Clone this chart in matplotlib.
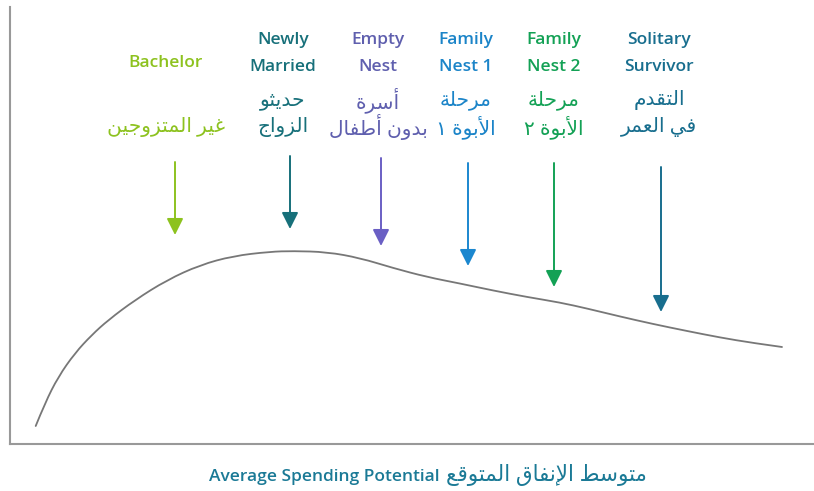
import matplotlib
matplotlib.use('Agg')
import matplotlib.pyplot as plt
from matplotlib.path import Path
from matplotlib.patches import PathPatch

# --- small Arabic shaper (presentation forms + visual order) ---
DUAL = set('بتثجحخسشصضطظعغفقكلمنهيئ')
FORMS = {
    'ا': ('\uFE8D', '\uFE8E', None, None), 'أ': ('\uFE83', '\uFE84', None, None),
    'إ': ('\uFE87', '\uFE88', None, None), 'ب': ('\uFE8F', '\uFE90', '\uFE91', '\uFE92'),
    'ة': ('\uFE93', '\uFE94', None, None), 'ت': ('\uFE95', '\uFE96', '\uFE97', '\uFE98'),
    'ث': ('\uFE99', '\uFE9A', '\uFE9B', '\uFE9C'), 'ج': ('\uFE9D', '\uFE9E', '\uFE9F', '\uFEA0'),
    'ح': ('\uFEA1', '\uFEA2', '\uFEA3', '\uFEA4'), 'د': ('\uFEA9', '\uFEAA', None, None),
    'ر': ('\uFEAD', '\uFEAE', None, None), 'ز': ('\uFEAF', '\uFEB0', None, None),
    'س': ('\uFEB1', '\uFEB2', '\uFEB3', '\uFEB4'), 'ط': ('\uFEC1', '\uFEC2', '\uFEC3', '\uFEC4'),
    'ع': ('\uFEC9', '\uFECA', '\uFECB', '\uFECC'), 'غ': ('\uFECD', '\uFECE', '\uFECF', '\uFED0'),
    'ف': ('\uFED1', '\uFED2', '\uFED3', '\uFED4'), 'ق': ('\uFED5', '\uFED6', '\uFED7', '\uFED8'),
    'ل': ('\uFEDD', '\uFEDE', '\uFEDF', '\uFEE0'), 'م': ('\uFEE1', '\uFEE2', '\uFEE3', '\uFEE4'),
    'ن': ('\uFEE5', '\uFEE6', '\uFEE7', '\uFEE8'), 'ه': ('\uFEE9', '\uFEEA', '\uFEEB', '\uFEEC'),
    'و': ('\uFEED', '\uFEEE', None, None), 'ي': ('\uFEF1', '\uFEF2', '\uFEF3', '\uFEF4'),
}
LAM_ALEF = {'ا': ('\uFEFB', '\uFEFC'), 'أ': ('\uFEF7', '\uFEF8'), 'إ': ('\uFEF9', '\uFEFA')}


def shape(s):
    toks = []
    i = 0
    while i < len(s):
        if s[i] == 'ل' and i + 1 < len(s) and s[i + 1] in LAM_ALEF:
            toks.append(('LA', s[i + 1]))
            i += 2
        else:
            toks.append((s[i], None))
            i += 1
    res = []
    for k, (c, a) in enumerate(toks):
        prev = toks[k - 1][0] if k > 0 else None
        nxt = toks[k + 1][0] if k + 1 < len(toks) else None
        jp = prev in DUAL
        if c == 'LA':
            res.append(LAM_ALEF[a][1] if jp else LAM_ALEF[a][0])
            continue
        if c not in FORMS:
            res.append(c)
            continue
        f = FORMS[c]
        jn = c in DUAL and (nxt in FORMS or nxt == 'LA')
        if jp and jn:
            res.append(f[3])
        elif jp:
            res.append(f[1])
        elif jn:
            res.append(f[2])
        else:
            res.append(f[0])
    return ''.join(reversed(res))


# --- data ---
curve_x = [25.7, 35, 48.3, 65, 81.7, 98.3, 125, 157, 190, 223, 260, 283, 317, 350,
           383, 417, 450, 483, 517, 550, 577, 610, 643, 677, 710, 743, 772]
curve_y = [18, 41, 67.3, 91, 109, 124, 144, 164, 179, 188, 192.3, 193, 192, 186,
           176, 167, 160.5, 153.5, 147, 141.5, 135.5, 127.5, 120, 113, 106.5, 101, 97]

stages_en = [['Bachelor'], ['Newly', 'Married'], ['Empty', 'Nest'], ['Family', 'Nest 1'],
             ['Family', 'Nest 2'], ['Solitary', 'Survivor']]
stages_ar = [['غير المتزوجين'], ['حديثو', 'الزواج'], ['أسرة', 'بدون أطفال'],
             ['مرحلة', 'الأبوة ١'], ['مرحلة', 'الأبوة ٢'], ['التقدم', 'في العمر']]
label_x = [156, 273, 368, 456, 544, 649]
arrow_x = [165, 280, 371, 458, 544, 651]
arrow_top = [282, 288, 286, 281, 281, 277]
arrow_tip = [209, 215, 198, 178, 157, 132]
colors = ['#8dc21f', '#17707a', '#6a5fc4', '#1b87cf', '#13a155', '#186e8e']
text_colors = ['#8dc21f', '#17707a', '#5f5fae', '#1b84c8', '#13a155', '#186e8e']

title_en = 'Average Spending Potential'
title_ar = 'متوسط الإنفاق المتوقع'

plt.rcParams['font.family'] = ['Open Sans', 'DejaVu Sans']

fig = plt.figure(figsize=(8.14, 4.91), dpi=100)
ax = fig.add_axes([10 / 814, 47 / 491, 804 / 814, 437 / 491])
ax.set_xlim(0, 804)
ax.set_ylim(0, 437)
for s in ['top', 'right']:
    ax.spines[s].set_visible(False)
for s in ['left', 'bottom']:
    ax.spines[s].set_color('#999999')
    ax.spines[s].set_linewidth(1.5)
ax.set_xticks([])
ax.set_yticks([])

# smooth curve: read points used as quadratic bezier control points
pts = list(zip(curve_x, curve_y))
verts = [pts[0]]
codes = [Path.MOVETO]
for k in range(1, len(pts) - 1):
    nxt = pts[k + 1]
    end = nxt if k + 1 == len(pts) - 1 else ((pts[k][0] + nxt[0]) / 2, (pts[k][1] + nxt[1]) / 2)
    verts += [pts[k], end]
    codes += [Path.CURVE3, Path.CURVE3]
ax.add_patch(PathPatch(Path(verts, codes), facecolor='none', edgecolor='#777777',
                       lw=1.3, capstyle='round'))

for i in range(len(stages_en)):
    en = stages_en[i]
    ar = stages_ar[i]
    en_y = [381] if len(en) == 1 else [404, 377]
    ar_y = [317] if len(ar) == 1 else [344, 317]
    for t, y in zip(en, en_y):
        ax.text(label_x[i], y, t, color=text_colors[i], fontsize=12.5,
                fontweight='semibold', ha='center', va='center')
    for t, y in zip(ar, ar_y):
        ax.text(label_x[i], y, shape(t), color=text_colors[i], fontsize=14.5,
                ha='center', va='center')
    ax.annotate('', xy=(arrow_x[i], arrow_tip[i]), xytext=(arrow_x[i], arrow_top[i]),
                arrowprops=dict(arrowstyle='-|>,head_length=1.0,head_width=0.5',
                                color=colors[i], lw=1.4, shrinkA=0, shrinkB=0,
                                mutation_scale=10))

ax.text(430, -33, title_en, color='#1b7a96', fontsize=12.5, fontweight='semibold',
        ha='right', va='center', clip_on=False)
ax.text(436, -31, shape(title_ar), color='#1b7a96', fontsize=15.5,
        ha='left', va='center', clip_on=False)

fig.savefig('out.png', dpi=100)
